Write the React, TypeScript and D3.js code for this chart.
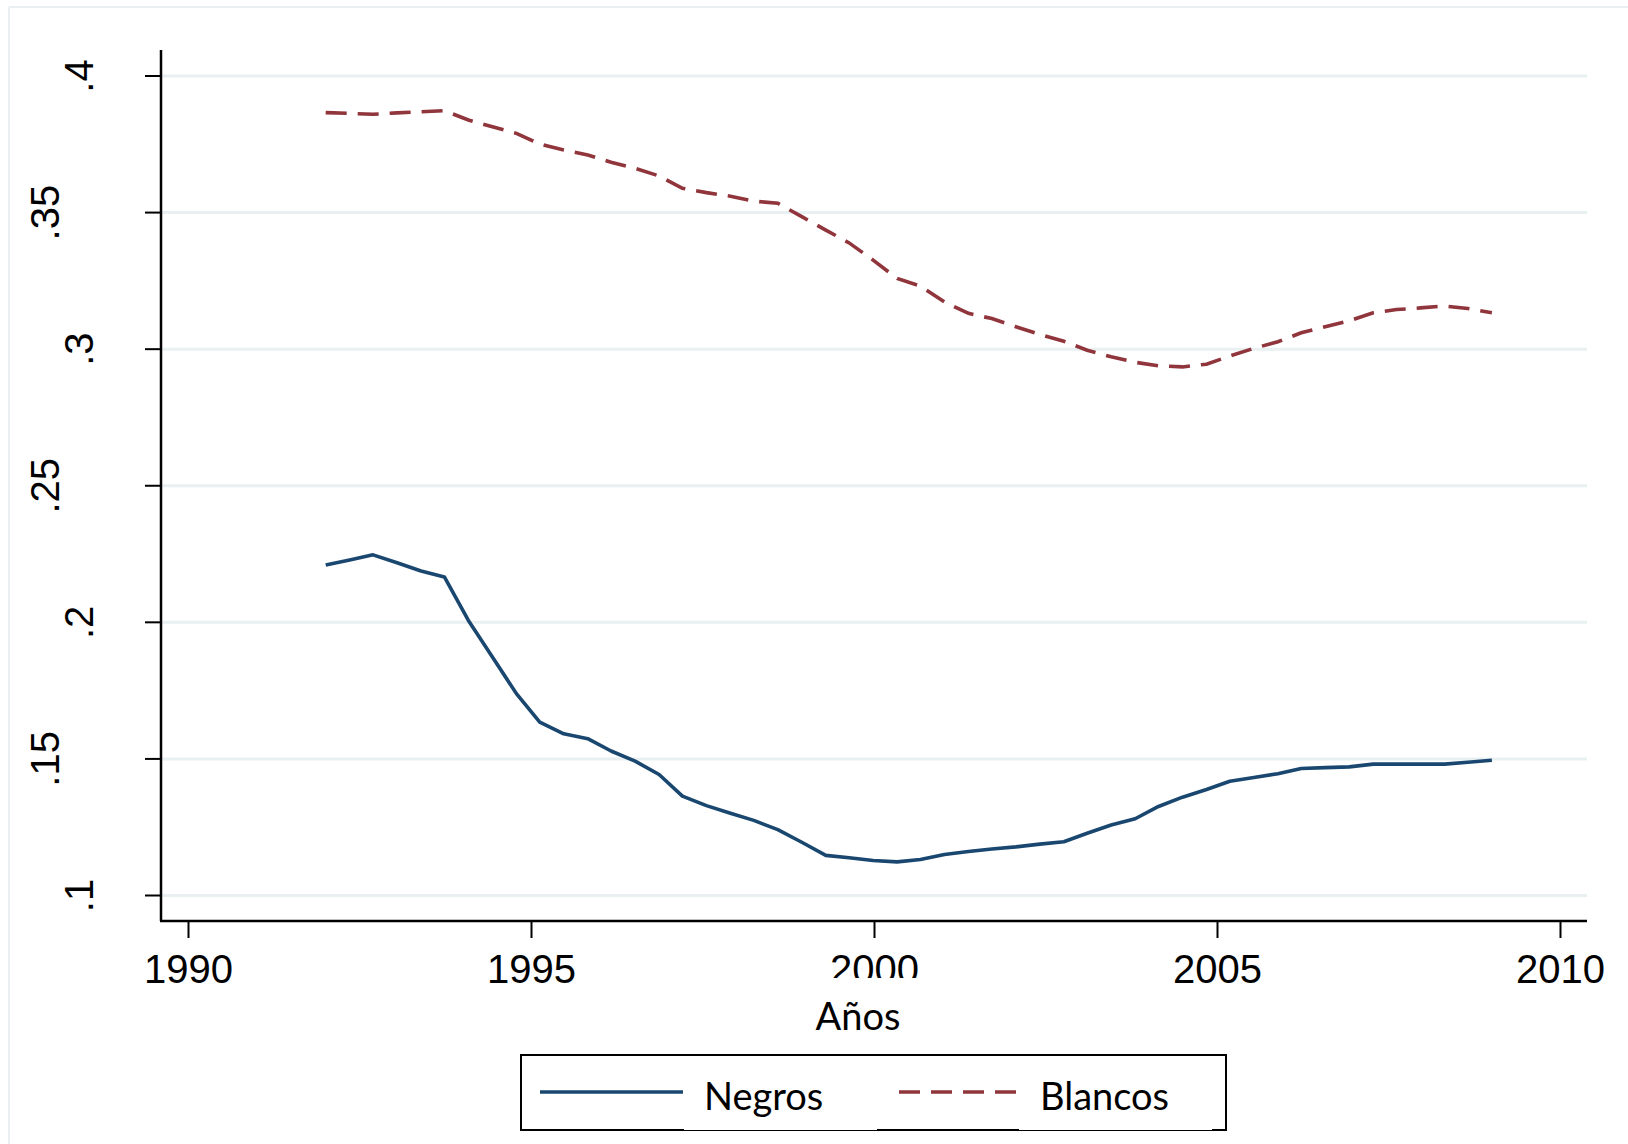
import React from 'react';
import * as d3 from 'd3';

// x positions (years) of the observations
const years = [
  1992.0, 1992.35, 1992.69, 1993.04, 1993.39, 1993.73, 1994.08, 1994.43, 1994.78, 1995.12,
  1995.47, 1995.82, 1996.16, 1996.51, 1996.86, 1997.2, 1997.55, 1997.9, 1998.24, 1998.59,
  1998.94, 1999.29, 1999.63, 1999.98, 2000.33, 2000.67, 2001.02, 2001.37, 2001.71, 2002.06,
  2002.41, 2002.76, 2003.1, 2003.45, 2003.8, 2004.14, 2004.49, 2004.84, 2005.18, 2005.53,
  2005.88, 2006.22, 2006.57, 2006.92, 2007.27, 2007.61, 2007.96, 2008.31, 2008.65, 2009.0,
];

const negros = [
  0.221, 0.2228, 0.2247, 0.2218, 0.2188, 0.2166, 0.2007, 0.1873, 0.1739, 0.1635,
  0.1592, 0.1574, 0.1529, 0.1492, 0.1443, 0.1364, 0.1329, 0.1301, 0.1275, 0.1241,
  0.1195, 0.1147, 0.1138, 0.1128, 0.1123, 0.1132, 0.115, 0.1161, 0.117, 0.1178,
  0.1188, 0.1197, 0.1228, 0.1258, 0.1281, 0.1326, 0.136, 0.1388, 0.1418, 0.1432,
  0.1446, 0.1465, 0.1468, 0.1471, 0.1481, 0.1481, 0.1481, 0.1481, 0.1488, 0.1495,
];

const blancos = [
  0.3866, 0.3863, 0.386, 0.3865, 0.3869, 0.3873, 0.3839, 0.3814, 0.379, 0.3751,
  0.3729, 0.3711, 0.3684, 0.3662, 0.3634, 0.3589, 0.3573, 0.356, 0.3542, 0.3534,
  0.3485, 0.3436, 0.3389, 0.3326, 0.3259, 0.3231, 0.3173, 0.3131, 0.3112, 0.3082,
  0.3054, 0.3029, 0.2996, 0.2972, 0.2952, 0.2939, 0.2935, 0.2945, 0.2975, 0.3003,
  0.3027, 0.306, 0.3082, 0.3104, 0.3133, 0.3145, 0.3151, 0.3158, 0.3149, 0.3133,
];

const yTicks = [0.1, 0.15, 0.2, 0.25, 0.3, 0.35, 0.4];
const yTickLabels = ['.1', '.15', '.2', '.25', '.3', '.35', '.4'];
const xTicks = [1990, 1995, 2000, 2005, 2010];

const NAVY = '#1a476f';
const MAROON = '#90353b';
const GRID = '#e8f0f2';
const axisFont = '"Liberation Sans", Arial, sans-serif';
const labelFont = 'Lato, "Open Sans", sans-serif';

const App: React.FC = () => {
  const width = 1628;
  const height = 1144;
  const left = 161;
  const right = 1587;
  const top = 50;
  const bottom = 921;

  const x = d3.scaleLinear().domain([1990, 2010]).range([188.5, 1560.5]);
  const y = d3.scaleLinear().domain([0.1, 0.4]).range([895.5, 76]);

  const line = d3
    .line<number>()
    .x((_, i) => x(years[i]))
    .y(d => y(d));

  return (
    <svg
      width={width}
      height={height}
      style={{ position: 'absolute', left: 0, top: 0, display: 'block', background: '#fff' }}
    >
      {/* faint outer frame */}
      <line x1={9} x2={width} y1={7} y2={7} stroke={GRID} strokeWidth={2} />
      <line x1={9} x2={9} y1={7} y2={height} stroke={GRID} strokeWidth={2} />

      {/* grid */}
      {yTicks.map(t => (
        <line key={t} x1={left} x2={right} y1={y(t)} y2={y(t)} stroke={GRID} strokeWidth={3} />
      ))}

      {/* series */}
      <path d={line(negros) || ''} fill="none" stroke={NAVY} strokeWidth={3.6} strokeLinejoin="round" />
      <path
        d={line(blancos) || ''}
        fill="none"
        stroke={MAROON}
        strokeWidth={3.6}
        strokeDasharray="21,11"
      />

      {/* axes */}
      <line x1={left} x2={left} y1={top} y2={bottom} stroke="#000" strokeWidth={2.5} />
      <line x1={left - 1} x2={right} y1={bottom} y2={bottom} stroke="#000" strokeWidth={2.5} />

      {yTicks.map((t, i) => {
        const lbl = yTickLabels[i];
        const bx = lbl.length > 2 ? 59 : 93;
        return (
          <g key={t}>
            <line x1={145} x2={left} y1={y(t)} y2={y(t)} stroke="#000" strokeWidth={2} />
            <text
              transform={`translate(${bx},${y(t)}) rotate(-90)`}
              textAnchor="middle"
              fontFamily={axisFont}
              fontSize={40}
              fill="#000"
            >
              {lbl}
            </text>
          </g>
        );
      })}

      {xTicks.map(t => (
        <g key={t}>
          <line x1={x(t)} x2={x(t)} y1={bottom} y2={938} stroke="#000" strokeWidth={2} />
          <text x={x(t)} y={983} textAnchor="middle" fontFamily={axisFont} fontSize={40} fill="#000">
            {t}
          </text>
        </g>
      ))}

      {/* axis title (its white box clips the 2000 label) */}
      <rect x={790} y={978} width={140} height={62} fill="#fff" />
      <text x={858} y={1030} textAnchor="middle" fontFamily={labelFont} fontSize={38} fill="#000">
        Años
      </text>

      {/* legend */}
      <rect x={521} y={1055} width={705} height={75} fill="#fff" stroke="#000" strokeWidth={2} />
      <rect x={684} y={1072} width={193} height={58} fill="#fff" />
      <rect x={1019} y={1072} width={193} height={58} fill="#fff" />
      <line x1={540} x2={683} y1={1092} y2={1092} stroke={NAVY} strokeWidth={3.6} />
      <text x={704} y={1110} fontFamily={labelFont} fontSize={38} fill="#000">
        Negros
      </text>
      <line
        x1={899}
        x2={1020}
        y1={1092}
        y2={1092}
        stroke={MAROON}
        strokeWidth={3.6}
        strokeDasharray="21,11"
      />
      <text x={1040} y={1110} fontFamily={labelFont} fontSize={38} fill="#000">
        Blancos
      </text>
    </svg>
  );
};

export default App;
